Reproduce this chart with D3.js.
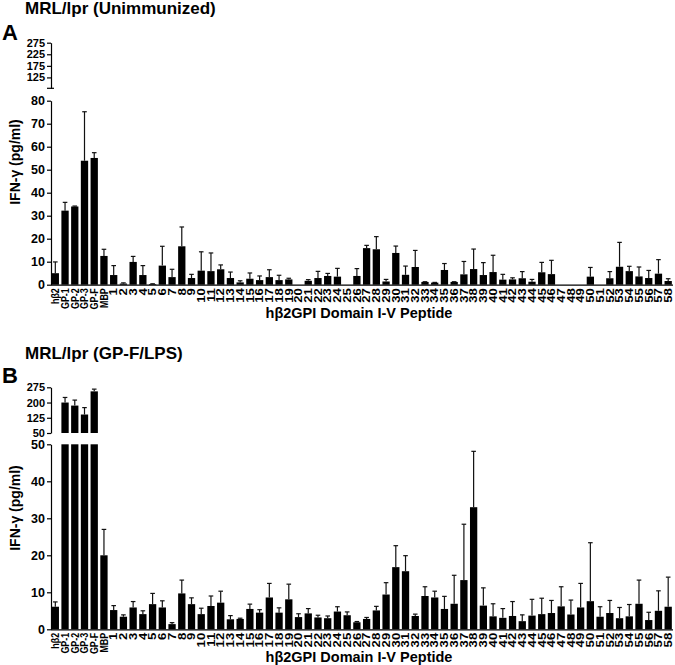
<!DOCTYPE html>
<html>
<head>
<meta charset="utf-8">
<script src="https://cdn.jsdelivr.net/npm/d3@7"></script>
<style>
  html, body { margin: 0; padding: 0; background: #fff; }
  svg { display: block; font-family: "Liberation Sans", Arial, sans-serif; }
  text { font-weight: bold; fill: #000; }
</style>
</head>
<body>
<svg id="chart" width="675" height="665"></svg>
<script>
// ---------- DATA ----------
const categories = ["hβ2","GP-1","GP-2","GP-3","GP-F","MBP",
  "1","2","3","4","5","6","7","8","9","10","11","12","13","14","15","16","17","18","19","20",
  "21","22","23","24","25","26","27","28","29","30","31","32","33","34","35","36","37","38","39","40",
  "41","42","43","44","45","46","47","48","49","50","51","52","53","54","55","56","57","58"];

// Panel A: MRL/lpr (Unimmunized) — mean IFN-γ (pg/ml)
const meanA = [5.0,32.2,34.0,53.9,55.1,12.5,
  4.2,0.5,9.9,4.2,0.3,8.3,3.3,16.7,2.9,6.1,5.9,6.7,2.9,1.0,2.6,2.0,3.3,2.0,2.3,0,
  1.7,2.9,3.8,3.5,0,3.8,15.9,15.4,1.4,13.8,4.3,7.7,1.2,0.9,6.4,1.2,4.5,6.8,4.2,5.5,
  2.2,2.3,2.8,1.3,5.4,4.6,0,0,0,3.5,0,2.8,7.8,5.9,3.6,2.9,4.8,1.6];
// Panel A: error (SD)
const errA = [4.9,3.6,0.2,21.3,2.3,2.9,
  4.1,0.3,2.4,4.1,0.1,8.4,3.4,8.4,1.6,8.2,7.9,1.9,2.6,0.7,2.5,1.8,3.2,2.1,0.5,0,
  0.5,2.9,1.1,3.6,0,3.2,1.2,5.5,0.9,3.0,3.8,7.2,0.1,0.1,2.8,0.1,5.6,8.7,5.4,7.3,
  2.3,0.7,2.9,1.0,4.3,6.0,0,0,0,4.0,0,2.9,10.6,2.1,4.1,3.3,6.1,1.0];

// Panel B: MRL/lpr (GP-F/LPS)
const meanB = [6.1,200,185,141,255,20.0,
  5.2,3.4,5.9,4.1,6.8,5.9,1.4,9.7,6.8,4.1,6.3,7.2,2.7,2.8,5.5,4.5,8.6,4.5,8.1,3.3,
  4.3,3.2,3.0,4.8,3.8,1.9,2.8,5.1,9.4,16.8,15.7,3.6,9.0,8.6,5.5,6.9,13.3,33.0,6.4,3.5,
  3.1,3.6,2.2,3.7,4.1,4.4,6.2,4.0,5.9,7.6,3.4,4.4,3.0,3.5,6.9,2.5,5.0,6.1];
const errB = [1.3,25,27,34,11,7.0,
  1.2,0.5,1.6,0.9,2.9,1.8,0.4,3.6,1.7,1.6,2.7,3.1,1.0,0.2,1.3,0.8,3.8,1.3,4.1,0.9,
  1.3,0.6,0.6,1.3,0.9,0.2,0.4,1.1,3.2,5.8,4.2,0.5,2.5,1.7,3.4,7.7,15.1,15.1,4.8,3.4,
  2.5,3.9,1.7,4.4,4.3,3.4,5.3,3.9,6.5,15.8,2.7,3.4,2.9,3.2,6.4,2.1,5.4,8.0];

const ticksA_low = [0,10,20,30,40,50,60,70,80];
const ticksA_up = [125,175,225,275];
const ticksB_low = [0,10,20,30,40,50];
const ticksB_up = [50,125,200,275];

const titleA = "MRL/lpr (Unimmunized)";
const titleB = "MRL/lpr (GP-F/LPS)";
const yTitle = "IFN-γ (pg/ml)";
const xTitle = "hβ2GPI Domain I-V Peptide";

// ---------- DRAW ----------
const svg = d3.select("#chart");
const x = d3.scaleBand().domain(categories).range([50.5, 673]).paddingInner(0.25).paddingOuter(0.12);
const AXIS_X = 51;
const FONT = "'Liberation Sans', Arial, sans-serif";

function drawPanel(p) {
  const g = svg.append("g");
  const yL = d3.scaleLinear().domain(p.lowDomain).range(p.lowRange);
  const yU = d3.scaleLinear().domain(p.upDomain).range(p.upRange);
  const lowMax = p.lowDomain[1];
  const data = categories.map((c, i) => ({c, v: p.mean[i], e: p.err[i]}));

  // bars lower segment
  g.append("g").selectAll("rect").data(data).join("rect")
    .attr("x", d => x(d.c))
    .attr("width", x.bandwidth())
    .attr("y", d => yL(Math.min(d.v, lowMax)))
    .attr("height", d => yL(0) - yL(Math.min(d.v, lowMax)))
    .attr("fill", "#000");
  // bars upper segment
  g.append("g").selectAll("rect").data(data.filter(d => d.v > lowMax)).join("rect")
    .attr("x", d => x(d.c))
    .attr("width", x.bandwidth())
    .attr("y", d => yU(d.v))
    .attr("height", d => yU(p.upDomain[0]) - yU(d.v))
    .attr("fill", "#000");

  // error bars (upper only)
  const eb = g.append("g").attr("stroke", "#111").attr("stroke-width", 1.2);
  data.filter(d => d.e > 0).forEach(d => {
    const cx = x(d.c) + x.bandwidth() / 2;
    const sc = d.v > lowMax ? yU : yL;
    const y0 = sc(d.v), y1 = sc(d.v + d.e);
    eb.append("line").attr("x1", cx).attr("x2", cx).attr("y1", y0).attr("y2", y1);
    eb.append("line").attr("x1", cx - 2.3).attr("x2", cx + 2.3).attr("y1", y1).attr("y2", y1);
  });

  // y axes
  const axL = g.append("g").attr("transform", `translate(${AXIS_X},0)`)
    .call(d3.axisLeft(yL).tickValues(p.lowTicks).tickSize(4).tickSizeOuter(0).tickPadding(2));
  const axU = g.append("g").attr("transform", `translate(${AXIS_X},0)`)
    .call(d3.axisLeft(yU).tickValues(p.upTicks).tickSize(4).tickSizeOuter(0).tickPadding(2));
  [[axL, "12.5px"], [axU, "11px"]].forEach(([a, fs]) => {
    a.selectAll("path, line").attr("stroke", "#000").attr("stroke-width", 1.2);
    a.selectAll("text").style("font-size", fs).style("font-weight", "bold")
      .style("font-family", FONT).attr("fill", "#000");
  });
  if (p.breakMark) {
    g.append("line").attr("x1", AXIS_X - 4).attr("x2", AXIS_X + 3)
      .attr("y1", p.upRange[0]).attr("y2", p.upRange[0])
      .attr("stroke", "#000").attr("stroke-width", 1.2);
  }

  // x axis
  const axX = g.append("g").attr("transform", `translate(0,${yL(0)})`)
    .call(d3.axisBottom(x).tickSize(0).tickSizeOuter(0));
  axX.select(".domain").attr("d", `M${AXIS_X},0.5H673`).attr("stroke", "#000").attr("stroke-width", 1.2);
  axX.selectAll("text")
    .style("font-size", "10.5px").style("font-weight", "bold")
    .style("font-family", FONT)
    .attr("fill", "#000")
    .attr("text-anchor", "end")
    .each(function(d) {
      const s = /^\d+$/.test(d) ? 1.25 : 0.85;
      d3.select(this)
        .attr("transform", `rotate(-90) scale(${s},1)`)
        .attr("x", -3.5 / s).attr("y", 0).attr("dy", "0.36em");
    });

  // titles
  g.append("text").attr("x", 25).attr("y", p.titleY).style("font-size", "17px").text(p.title);
  g.append("text").attr("x", 2).attr("y", p.letterY).style("font-size", "22px").text(p.letter);
  g.append("text").attr("transform", `translate(20,${p.yTitleY}) rotate(-90)`)
    .attr("text-anchor", "middle").style("font-size", "14px").text(yTitle);
  g.append("text").attr("x", 359).attr("y", p.xTitleY).attr("text-anchor", "middle")
    .style("font-size", "14.5px").text(xTitle);
}

drawPanel({
  mean: meanA, err: errA,
  lowDomain: [0, 80], lowRange: [284.7, 100.7],
  upDomain: [78, 275], upRange: [88.3, 42.7],
  lowTicks: ticksA_low, upTicks: ticksA_up, breakMark: true,
  title: titleA, titleY: 14, letter: "A", letterY: 40, yTitleY: 162, xTitleY: 318
});
drawPanel({
  mean: meanB, err: errB,
  lowDomain: [0, 50], lowRange: [629.3, 444.3],
  upDomain: [50, 275], upRange: [433, 387.3],
  lowTicks: ticksB_low, upTicks: ticksB_up, breakMark: false,
  title: titleB, titleY: 359, letter: "B", letterY: 383, yTitleY: 508, xTitleY: 662
});
</script>
</body>
</html>
